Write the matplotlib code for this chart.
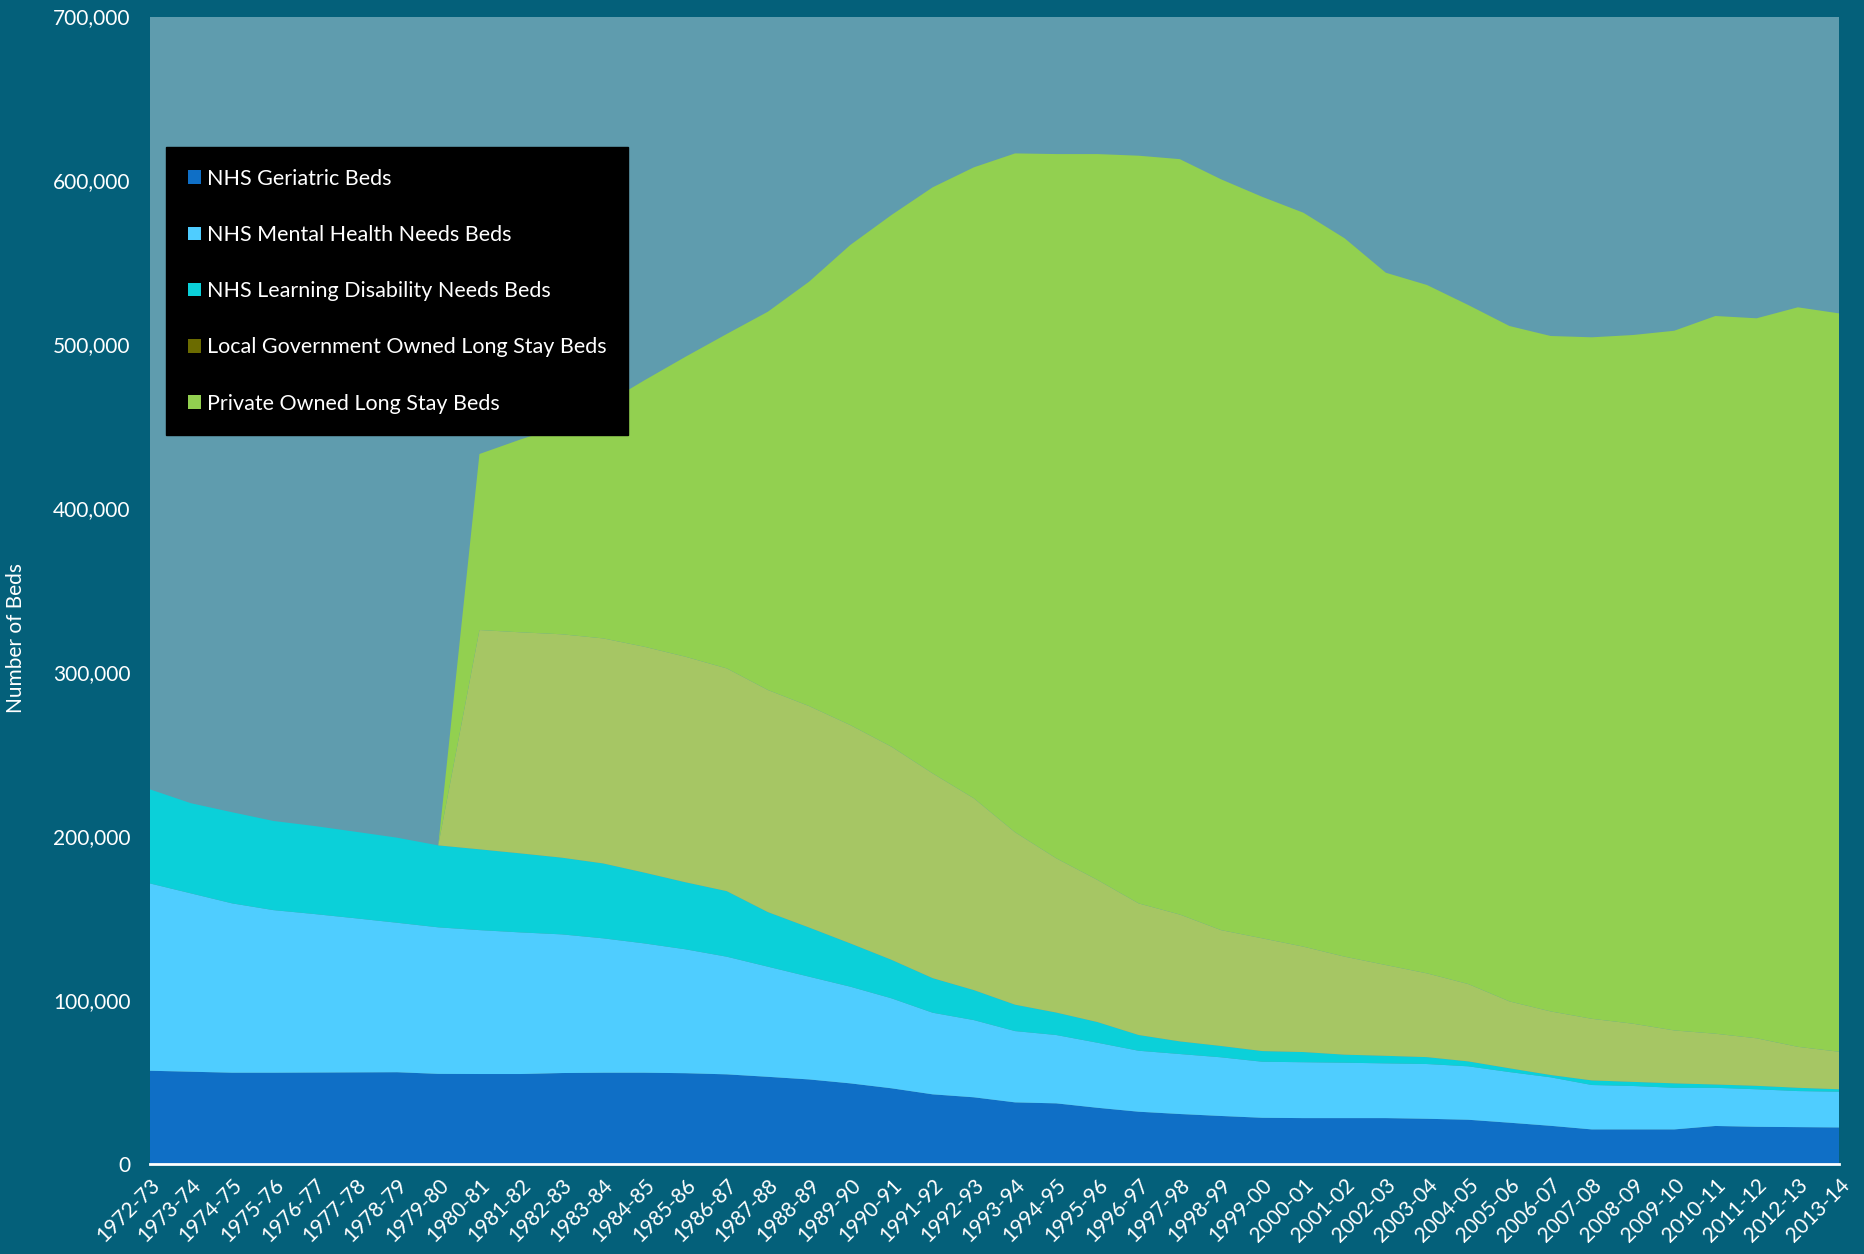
import numpy as np
import matplotlib.pyplot as plt
from matplotlib.patches import Patch
from matplotlib.ticker import FuncFormatter

plt.rcParams['font.family'] = ['Lato', 'DejaVu Sans']

years = ["1972-73", "1973-74", "1974-75", "1975-76", "1976-77", "1977-78", "1978-79",
         "1979-80", "1980-81", "1981-82", "1982-83", "1983-84", "1984-85", "1985-86",
         "1986-87", "1987-88", "1988-89", "1989-90", "1990-91", "1991-92", "1992-93",
         "1993-94", "1994-95", "1995-96", "1996-97", "1997-98", "1998-99", "1999-00",
         "2000-01", "2001-02", "2002-03", "2003-04", "2004-05", "2005-06", "2006-07",
         "2007-08", "2008-09", "2009-10", "2010-11", "2011-12", "2012-13", "2013-14"]

# values in thousands of beds
geriatric = [56.8, 56.2, 55.6, 55.6, 55.7, 55.8, 55.9, 54.9, 54.8, 54.8, 55.4, 55.6, 55.6, 55.3,
             54.6, 53.1, 51.5, 49.1, 46.1, 42.4, 40.6, 37.5, 36.9, 34.2, 31.8, 30.4, 29.2, 28.1,
             27.9, 27.9, 27.9, 27.5, 26.9, 25.1, 23.2, 21.0, 21.0, 21.0, 23.1, 22.6, 22.4, 22.2]
mental_health = [114.3, 108.8, 103.3, 99.2, 96.7, 94.0, 91.2, 89.4, 87.8, 86.4, 84.6, 82.0, 78.9, 75.6,
                 71.8, 67.2, 62.7, 59.0, 54.9, 49.8, 47.1, 43.5, 41.7, 39.7, 37.2, 36.6, 35.8, 34.2,
                 34.1, 33.8, 33.4, 33.4, 32.6, 30.9, 29.6, 27.1, 26.5, 25.4, 23.3, 22.9, 22.0, 21.8]
learning_dis = [57.4, 55.0, 55.6, 54.4, 53.7, 52.8, 51.9, 50.0, 49.3, 48.2, 46.8, 45.7, 43.2, 40.9,
                40.0, 33.3, 30.0, 26.4, 23.5, 21.1, 18.3, 16.1, 13.7, 12.6, 9.6, 7.7, 6.9, 6.5,
                6.2, 4.9, 4.6, 4.2, 3.0, 2.3, 1.4, 2.8, 2.5, 2.7, 2.0, 2.1, 2.0, 1.5]
local_gov = [0, 0, 0, 0, 0, 0, 0, 0, 133.8, 134.9, 136.3, 137.3, 137.8, 137.6,
             135.9, 135.5, 135.1, 133.2, 130.0, 124.9, 117.0, 105.2, 94.1, 86.7, 80.3, 77.4, 70.7, 68.8,
             64.3, 59.8, 55.4, 51.1, 47.2, 40.8, 38.8, 37.6, 35.5, 32.3, 31.0, 29.0, 25.0, 22.9]
private = [0, 0, 0, 0, 0, 0, 0, 0, 107.4, 117.7, 126.9, 142.4, 162.5, 183.0,
           204.0, 230.8, 258.9, 292.9, 324.4, 357.6, 385.0, 414.2, 429.7, 442.9, 456.2, 460.9, 458.1, 452.4,
           447.8, 438.3, 422.4, 420.0, 414.3, 412.1, 412.1, 415.8, 420.2, 426.9, 437.9, 439.3, 451.2, 450.5]

labels = ["NHS Geriatric Beds", "NHS Mental Health Needs Beds", "NHS Learning Disability Needs Beds",
          "Local Government Owned Long Stay Beds", "Private Owned Long Stay Beds"]
fill_colors = ["#0f6fc6", "#4fcdff", "#0bd0d9", "#a6c664", "#92d050"]
legend_colors = ["#0f6fc6", "#4fcdff", "#0bd0d9", "#6b6b00", "#92d050"]

bg = "#04607a"
x = np.arange(len(years))
series = [np.array(s) * 1000 for s in (geriatric, mental_health, learning_dis, local_gov, private)]

fig = plt.figure(figsize=(18.64, 12.54), dpi=100, facecolor=bg)
ax = fig.add_axes([0.0804, 0.0719, 0.9062, 0.9149])
ax.set_facecolor("#5f9cae")

ax.stackplot(x, *series, colors=fill_colors, linewidth=0)

ax.set_xlim(0, len(years) - 1)
ax.set_ylim(0, 700000)
ax.set_yticks(np.arange(0, 700001, 100000))
ax.yaxis.set_major_formatter(FuncFormatter(lambda v, p: f"{int(v):,}"))
ax.set_xticks(x)
ax.set_xticklabels(years, rotation=45, ha="right", rotation_mode="anchor")
ax.tick_params(axis="both", length=0, colors="white", labelsize=15)
ax.tick_params(axis="x", pad=8)
ax.tick_params(axis="y", pad=14)

for side in ["top", "left", "right"]:
    ax.spines[side].set_visible(False)
ax.spines["bottom"].set_color("white")
ax.spines["bottom"].set_linewidth(2)

ax.set_ylabel("Number of Beds", color="white", fontsize=15)
ax.yaxis.set_label_coords(-0.0735, 0.458)

handles = [Patch(facecolor=c, edgecolor="none") for c in legend_colors]
leg = ax.legend(handles, labels, loc="upper left", bbox_to_anchor=(0.0098, 0.886),
                borderaxespad=0, frameon=True, fancybox=False, fontsize=15.5,
                labelcolor="white", handlelength=0.6, handleheight=0.6,
                handletextpad=0.3, labelspacing=1.68, borderpad=1.0)
leg.get_frame().set_facecolor("black")
leg.get_frame().set_edgecolor("black")
leg.get_frame().set_alpha(1)

fig.savefig("out.png", dpi=100, facecolor=bg)
